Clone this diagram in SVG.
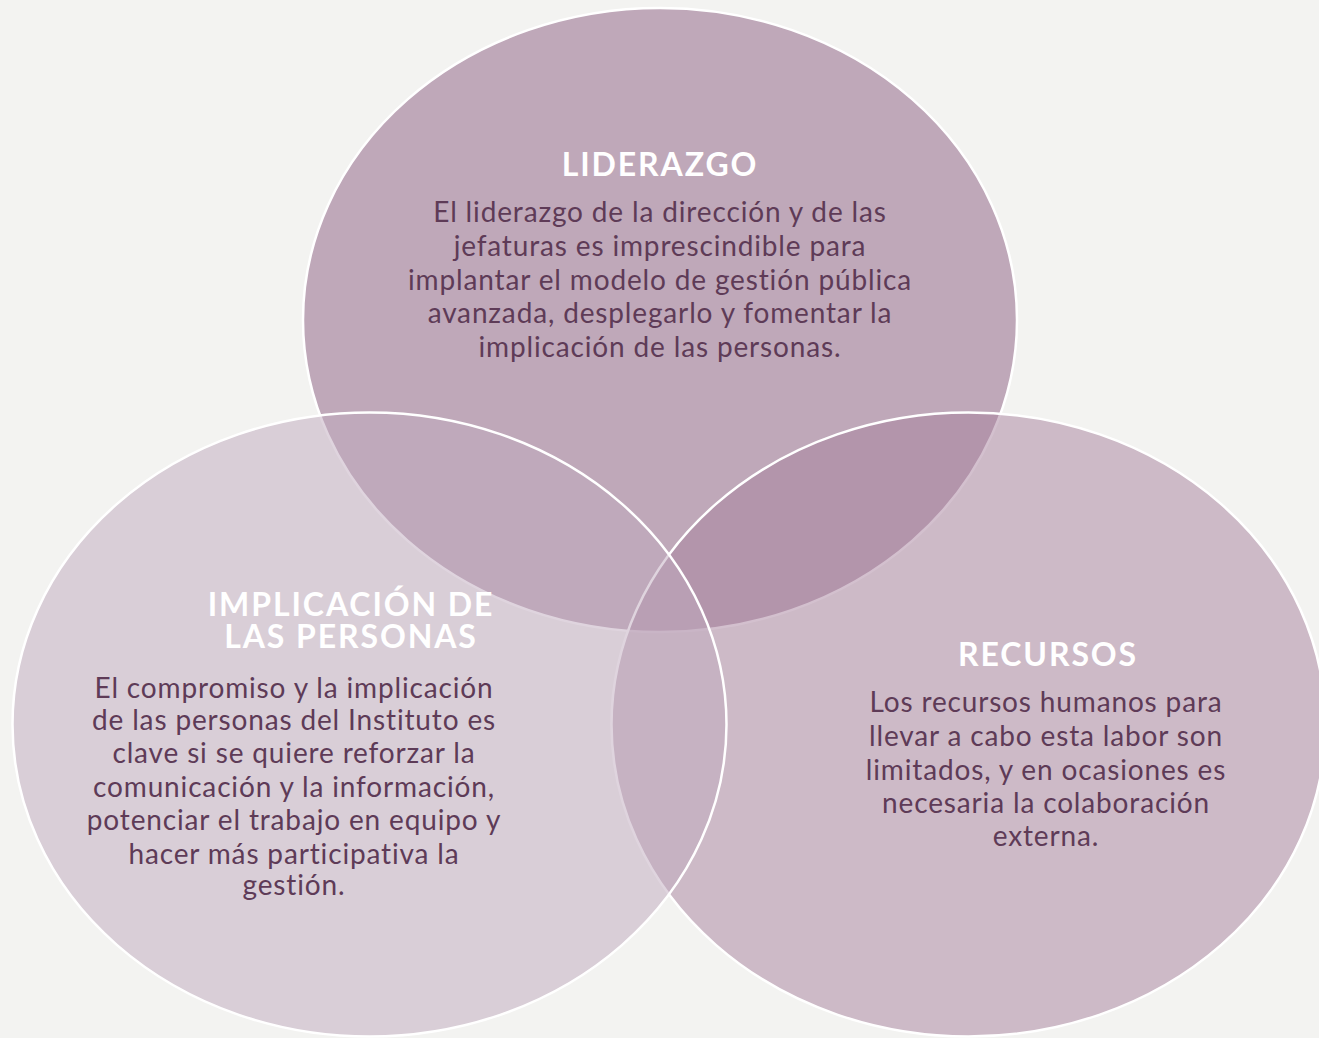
<svg xmlns="http://www.w3.org/2000/svg" width="1319" height="1038" viewBox="0 0 1319 1038">
<style>
.ell{stroke:#ffffff;stroke-width:2.5}
.t{font-family:Lato,"Open Sans","Liberation Sans",sans-serif;font-weight:700;font-size:32px;letter-spacing:1.9px;fill:#ffffff;text-anchor:middle}
.b{font-family:Lato,"Open Sans","Liberation Sans",sans-serif;font-size:28px;letter-spacing:0.85px;fill:#5e3b57;text-anchor:middle}
</style>
<rect width="1319" height="1038" fill="#f3f3f1"/>
<g id="liderazgo">
<ellipse class="ell" cx="660" cy="320" rx="357" ry="312" fill="#bfa8b9"/>
</g>
<g id="recursos">
<ellipse class="ell" cx="968.5" cy="724.5" rx="357" ry="312" fill="#a7819d" fill-opacity="0.5"/>
</g>
<g id="implicacion">
<ellipse class="ell" cx="369.5" cy="724.5" rx="357" ry="312" fill="#bfa9bd" fill-opacity="0.5"/>
</g>
<g id="connectors"></g>
<g id="labels">
<text class="t" x="660" y="176">LIDERAZGO</text>
<text class="b" x="660" y="222">El liderazgo de la dirección y de las</text>
<text class="b" x="660" y="256">jefaturas es imprescindible para</text>
<text class="b" x="660" y="290">implantar el modelo de gestión pública</text>
<text class="b" x="660" y="323">avanzada, desplegarlo y fomentar la</text>
<text class="b" x="660" y="357">implicación de las personas.</text>
<text class="t" x="351" y="616">IMPLICACIÓN DE</text>
<text class="t" x="351" y="648">LAS PERSONAS</text>
<text class="b" x="294" y="698">El compromiso y la implicación</text>
<text class="b" x="294" y="730">de las personas del Instituto es</text>
<text class="b" x="294" y="763">clave si se quiere reforzar la</text>
<text class="b" x="294" y="797">comunicación y la información,</text>
<text class="b" x="294" y="830">potenciar el trabajo en equipo y</text>
<text class="b" x="294" y="864">hacer más participativa la</text>
<text class="b" x="294" y="895">gestión.</text>
<text class="t" x="1048" y="666">RECURSOS</text>
<text class="b" x="1046" y="712">Los recursos humanos para</text>
<text class="b" x="1046" y="746">llevar a cabo esta labor son</text>
<text class="b" x="1046" y="780">limitados, y en ocasiones es</text>
<text class="b" x="1046" y="813">necesaria la colaboración</text>
<text class="b" x="1046" y="846">externa.</text>
</g>
</svg>
